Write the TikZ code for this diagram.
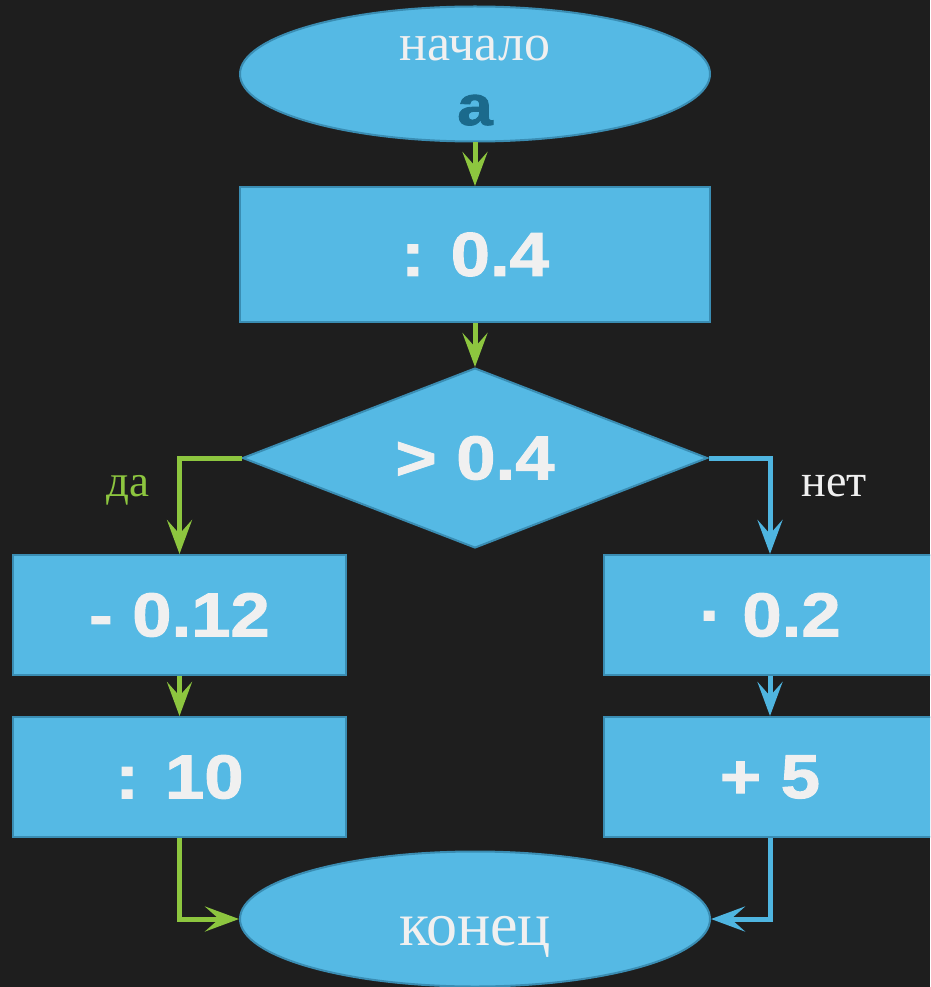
\documentclass[tikz,border=0pt]{standalone}
\usepackage{fontspec}
\setmainfont{Liberation Serif}
\setsansfont{Liberation Sans}
\newfontfamily\heavy{Liberation Sans}[UprightFont={* Bold}, UprightFeatures={FakeBold=1.6, FakeStretch=1.14}]
\usetikzlibrary{shapes.geometric,arrows.meta}
\definecolor{bg}{HTML}{1E1E1E}
\definecolor{boxfill}{HTML}{55B9E4}
\definecolor{boxline}{HTML}{3A8DB3}
\definecolor{grn}{HTML}{8DC63F}
\definecolor{blu}{HTML}{4FB5E0}
\definecolor{txt}{HTML}{F0F0F0}
\definecolor{dark}{HTML}{1B6A8C}
\begin{document}
\begin{tikzpicture}[x=1pt,y=-1pt,
  blk/.style={draw=boxline, line width=2pt, fill=boxfill, inner sep=0pt},
  procbox/.style={blk, rectangle, minimum width=333pt, minimum height=120pt,
     text=txt, font=\heavy\fontsize{62}{70}\selectfont},
  term/.style={blk, ellipse, minimum width=470pt, minimum height=135pt},
  serif/.style={text=txt, font=\rmfamily\fontsize{52}{60}\selectfont, inner sep=0pt},
  garr/.style={draw=grn, line width=5pt, -{Stealth[length=34pt,width=25pt,inset=14pt]}},
  barr/.style={draw=blu, line width=5pt, -{Stealth[length=34pt,width=25pt,inset=14pt]}}]
\fill[bg] (0,0) rectangle (930,987);
\useasboundingbox (0,0) rectangle (930,987);
\clip (0,0) rectangle (930,987);
% nodes
\node[term] (start) at (475,74) {};
\node[serif, anchor=base] (tstart) at (475,61) {начало};
\node[text=dark, font=\heavy\fontsize{56}{60}\selectfont, anchor=base, inner sep=0pt] (ta) at (475,125) {a};
\node[procbox, minimum width=470pt, minimum height=135pt] (box1) at (475,254.5) {: 0.4};
\node[blk, diamond, minimum width=465pt, minimum height=180pt, aspect=2.58,
      text=txt, font=\heavy\fontsize{62}{70}\selectfont] (dia) at (475,458) {> 0.4};
\node[procbox] (lb1) at (179.5,615) {- 0.12};
\node[procbox] (rb1) at (770,615) {· 0.2};
\node[procbox] (lb2) at (179.5,777) {: 10};
\node[procbox] (rb2) at (770,777) {+ 5};
\node[term] (end) at (475,919) {};
\node[serif, font=\rmfamily\fontsize{62}{66}\selectfont, anchor=base] (tend) at (475,945) {конец};
% labels
\node[text=grn, font=\rmfamily\fontsize{45}{50}\selectfont, anchor=base, inner sep=0pt] (lda) at (128,496) {да};
\node[text=txt, font=\rmfamily\fontsize{46}{50}\selectfont, anchor=base, inner sep=0pt] (lnet) at (834,496) {нет};
% connectors
\draw[garr] (start.south) -- (box1.north);
\draw[garr] (box1.south) -- (dia.north);
\draw[garr] (dia.west) -| (lb1.north);
\draw[barr] (dia.east) -| (rb1.north);
\draw[garr] (lb1.south) -- (lb2.north);
\draw[barr] (rb1.south) -- (rb2.north);
\draw[garr] (lb2.south) |- (end.west);
\draw[barr] (rb2.south) |- (end.east);
\end{tikzpicture}
\end{document}
